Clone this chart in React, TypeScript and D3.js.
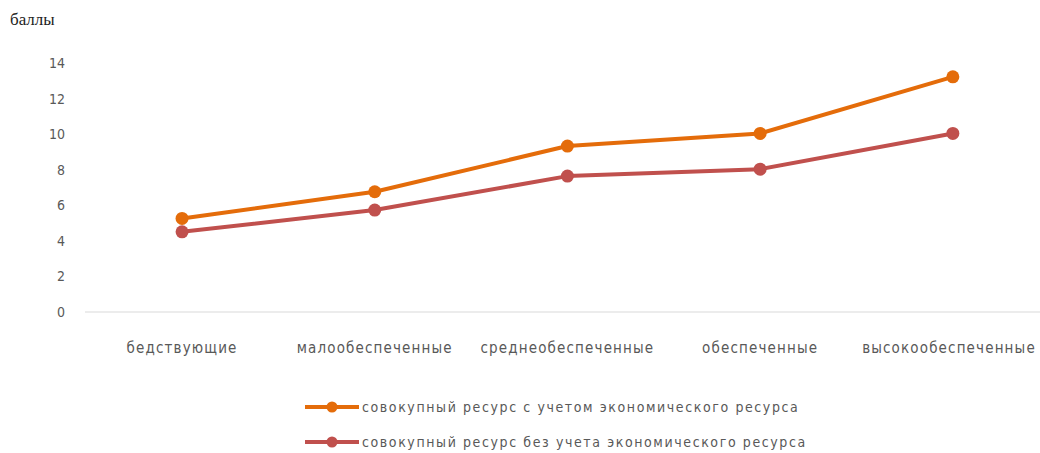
import React from "react";
import * as d3 from "d3";

const categories = ["бедствующие", "малообеспеченные", "среднеобеспеченные", "обеспеченные", "высокообеспеченные"];
const seriesWith = [5.26, 6.76, 9.33, 10.04, 13.22];
const seriesWithout = [4.51, 5.73, 7.64, 8.03, 10.04];
const yTicks = [0, 2, 4, 6, 8, 10, 12, 14];
const seriesNames = [
  "совокупный ресурс с учетом экономического ресурса",
  "совокупный ресурс без учета экономического ресурса",
];
const colors = ["#E46C0A", "#C0504D"];

export default function App() {
  const W = 1040, H = 453;
  const x = d3.scaleBand<string>().domain(categories).range([85.7, 1049.2]);
  const y = d3.scaleLinear().domain([0, 14]).range([312, 63]);
  const cx = (c: string) => (x(c) ?? 0) + x.bandwidth() / 2;
  const line = d3.line<number>().x((_, i) => cx(categories[i])).y((d) => y(d));
  const series = [seriesWith, seriesWithout];
  const font = "'Liberation Sans Narrow', 'DejaVu Sans Condensed', 'Liberation Sans', sans-serif";
  return (
    <svg width={W} height={H} style={{ position: "absolute", left: 0, top: 0, background: "#fff" }}>
      <text x={10} y={25} fontFamily="'Liberation Serif', 'DejaVu Serif', serif" fontSize={17} fill="#222">баллы</text>
      {yTicks.map((t) => (
        <text key={t} x={65} y={y(t) + 5} textAnchor="end" fontFamily={font} fontSize={14} fill="#595959">{t}</text>
      ))}
      <line x1={85} x2={1040} y1={y(0)} y2={y(0)} stroke="#d9d9d9" strokeWidth={1} />
      {categories.map((c, i) => (
        <text key={c} x={Math.min(cx(c), 949)} y={353} textAnchor="middle" fontFamily={font} fontSize={15} letterSpacing={1.15} fill="#595959">{c}</text>
      ))}
      {series.map((s, k) => (
        <g key={k}>
          <path d={line(s) ?? ""} fill="none" stroke={colors[k]} strokeWidth={4} strokeLinejoin="round" />
          {s.map((v, i) => (
            <circle key={i} cx={cx(categories[i])} cy={y(v)} r={6.5} fill={colors[k]} />
          ))}
        </g>
      ))}
      {seriesNames.map((n, k) => {
        const ly = 407 + k * 35;
        return (
          <g key={n}>
            <line x1={305} x2={359} y1={ly} y2={ly} stroke={colors[k]} strokeWidth={4} />
            <circle cx={332} cy={ly} r={5.5} fill={colors[k]} />
            <text x={362} y={ly + 5} fontFamily={font} fontSize={14} fill="#595959" letterSpacing={1.6}>{n}</text>
          </g>
        );
      })}
    </svg>
  );
}
